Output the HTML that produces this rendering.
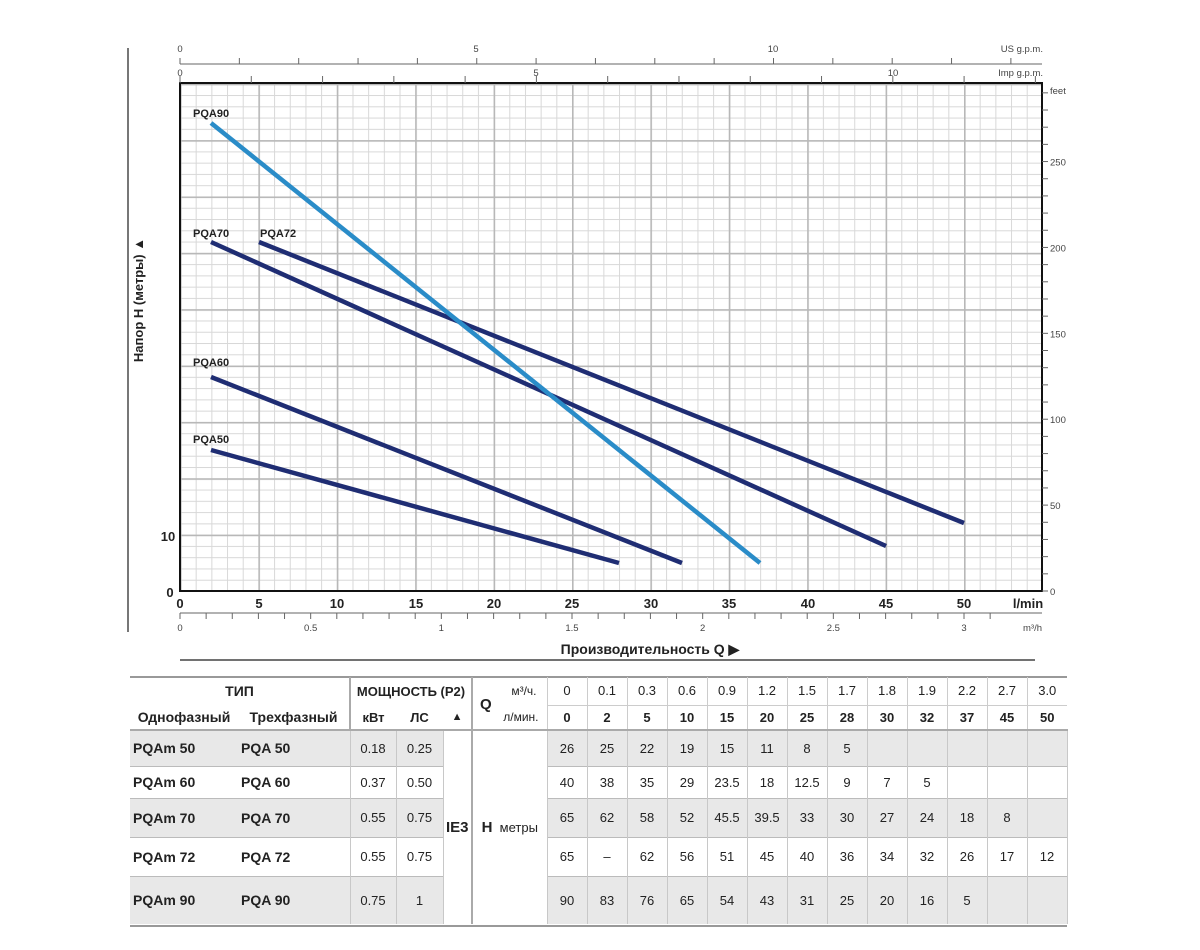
<!DOCTYPE html>
<html><head><meta charset="utf-8"><style>
body{margin:0;width:1200px;height:950px;background:#fff;position:relative;font-family:"Liberation Sans",sans-serif;overflow:hidden}
svg{position:absolute;left:0;top:0}
table{position:absolute;left:130px;top:677px;width:937px;border-collapse:collapse;table-layout:fixed;font-family:"Liberation Sans",sans-serif;font-size:13px;color:#222}
td{text-align:center;padding:0;border-left:1px solid #c8c8c8;border-right:1px solid #c8c8c8;white-space:nowrap}
.h td{border:none}
.g td.s{background:#e8e8e8}
tr.d td{border-top:1px solid #bbb}
.b{font-weight:bold}
.n{text-align:left;padding-left:3px;font-weight:bold;font-size:14px;border-left:none;border-right:none}
</style></head><body>
<svg width="1200" height="670" viewBox="0 0 1200 670">
<defs>
<pattern id="mv" x="180" y="0" width="15.68" height="10" patternUnits="userSpaceOnUse"><line x1="0.5" y1="0" x2="0.5" y2="10" stroke="#d8d8d8" stroke-width="1"/></pattern>
<pattern id="mh" x="0" y="591" width="10" height="11.272" patternUnits="userSpaceOnUse"><line x1="0" y1="0.5" x2="10" y2="0.5" stroke="#d8d8d8" stroke-width="1"/></pattern>
<pattern id="Mv" x="180" y="0" width="78.4" height="10" patternUnits="userSpaceOnUse"><line x1="0.8" y1="0" x2="0.8" y2="10" stroke="#b8b8b8" stroke-width="1.6"/></pattern>
<pattern id="Mh" x="0" y="591" width="10" height="56.36" patternUnits="userSpaceOnUse"><line x1="0" y1="0.8" x2="10" y2="0.8" stroke="#b8b8b8" stroke-width="1.6"/></pattern>
</defs>
<line x1="128" y1="48" x2="128" y2="632" stroke="#777" stroke-width="2"/>
<rect x="180" y="83" width="862" height="508" fill="url(#mv)"/>
<rect x="180" y="83" width="862" height="508" fill="url(#mh)"/>
<rect x="180" y="83" width="862" height="508" fill="url(#Mv)"/>
<rect x="180" y="83" width="862" height="508" fill="url(#Mh)"/>
<rect x="180" y="83" width="862" height="508" fill="none" stroke="#111" stroke-width="2"/>
<g stroke="#666" stroke-width="1">
<line x1="180" y1="64" x2="1042" y2="64"/>
</g>
<g stroke="#666" stroke-width="1" id="ticks"></g>
<g font-size="9.5" fill="#444" id="labs"></g>
<g stroke-linecap="butt" stroke-width="4.5" fill="none">
<line x1="211" y1="450" x2="619" y2="563" stroke="#1f2d73"/>
<line x1="211" y1="377" x2="682" y2="563" stroke="#1f2d73"/>
<line x1="211" y1="242" x2="886" y2="546" stroke="#1f2d73"/>
<line x1="259" y1="242" x2="964" y2="523" stroke="#1f2d73"/>
<line x1="211" y1="123" x2="760" y2="563" stroke="#2a8cc8"/>
</g>
<g font-size="11" font-weight="bold" fill="#222">
<text x="193" y="117">PQA90</text><text x="193" y="237">PQA70</text><text x="260" y="237">PQA72</text>
<text x="193" y="366">PQA60</text><text x="193" y="443">PQA50</text>
</g>
<g font-size="13" font-weight="bold" fill="#222" text-anchor="middle">
<text x="180" y="608">0</text><text x="259" y="608">5</text><text x="337" y="608">10</text><text x="416" y="608">15</text><text x="494" y="608">20</text><text x="572" y="608">25</text><text x="651" y="608">30</text><text x="729" y="608">35</text><text x="808" y="608">40</text><text x="886" y="608">45</text><text x="964" y="608">50</text>
<text x="1028" y="608">l/min</text>
<text x="168" y="541">10</text><text x="170" y="597">0</text>
</g>
<text x="143" y="300" font-size="13" font-weight="bold" fill="#222" text-anchor="middle" transform="rotate(-90 143 300)">Напор H (метры) ▲</text>
<text x="650" y="654" font-size="14" font-weight="bold" fill="#222" text-anchor="middle">Производительность Q ▶</text>
<line x1="180" y1="660" x2="1035" y2="660" stroke="#444" stroke-width="1.5"/>
</svg>
<script>
(function(){
var ns="http://www.w3.org/2000/svg",t=document.getElementById('ticks'),l=document.getElementById('labs');
function L(a,b,c,d){var e=document.createElementNS(ns,'line');e.setAttribute('x1',a);e.setAttribute('y1',b);e.setAttribute('x2',c);e.setAttribute('y2',d);t.appendChild(e);}
function T(x,y,s,anc){var e=document.createElementNS(ns,'text');e.setAttribute('x',x);e.setAttribute('y',y);if(anc)e.setAttribute('text-anchor',anc);e.textContent=s;l.appendChild(e);}
var p=15.68;
for(var i=0;i<=14;i++){var x=180+i*3.785*p;L(x,64,x,58);} 
T(180,52,'0','middle');T(476,52,'5','middle');T(773,52,'10','middle');T(1043,52,'US g.p.m.','end');
for(var i=0;i<=12;i++){var x=180+i*4.546*p;L(x,83,x,76);}
T(180,76,'0','middle');T(536,76,'5','middle');T(893,76,'10','middle');T(1043,76,'Imp g.p.m.','end');
L(180,613,1042,613);
for(var i=0;i<=31;i++){var x=180+i*1.6667*p;if(x<=1043)L(x,613,x,619);}
var m=['0','0.5','1','1.5','2','2.5','3'];for(var i=0;i<7;i++)T(180+i*8.3333*p,631,m[i],'middle');
T(1042,631,'m³/h','end');
var f=1.7178;
for(var i=0;i<=29;i++){var y=591-i*10*f;L(1042,y,1048,y);}
for(var i=0;i<=5;i++)T(1050,595-i*50*f,String(i*50));
T(1050,94,'feet');
})();
</script>
<div style="position:absolute;left:130px;top:676px;width:937px;height:2px;background:#999"></div>
<div style="position:absolute;left:130px;top:925px;width:937px;height:2px;background:#999"></div>
<div style="position:absolute;left:480px;top:696px;font:bold 15px 'Liberation Sans',sans-serif;color:#222">Q</div>
<table>
<colgroup><col style="width:108px"><col style="width:112px"><col style="width:46px"><col style="width:47px"><col style="width:29px"><col style="width:75px"><col span="13" style="width:40px"></colgroup>
<tr class="h" style="height:28px"><td colspan="2" class="b" style="font-size:14px">ТИП</td><td colspan="3" class="b" style="font-size:13px;border-left:2px solid #aaa">МОЩНОСТЬ (P2)</td><td style="text-align:right;padding-right:10px;border-left:2px solid #aaa;font-size:12px">м³/ч.</td>
<td style="border-left:1px solid #ccc">0</td><td style="border-left:1px solid #ccc">0.1</td><td style="border-left:1px solid #ccc">0.3</td><td style="border-left:1px solid #ccc">0.6</td><td style="border-left:1px solid #ccc">0.9</td><td style="border-left:1px solid #ccc">1.2</td><td style="border-left:1px solid #ccc">1.5</td><td style="border-left:1px solid #ccc">1.7</td><td style="border-left:1px solid #ccc">1.8</td><td style="border-left:1px solid #ccc">1.9</td><td style="border-left:1px solid #ccc">2.2</td><td style="border-left:1px solid #ccc">2.7</td><td style="border-left:1px solid #ccc">3.0</td></tr>
<tr class="h b" style="height:25px"><td style="font-size:14px">Однофазный</td><td style="font-size:14px">Трехфазный</td><td style="border-left:2px solid #aaa">кВт</td><td>ЛС</td><td style="font-size:11px">▲</td><td style="text-align:right;padding-right:8px;font-weight:normal;font-size:12px;border-left:2px solid #aaa">л/мин.</td>
<td style="border-left:1px solid #ccc;border-top:1px solid #ccc">0</td><td style="border-left:1px solid #ccc;border-top:1px solid #ccc">2</td><td style="border-left:1px solid #ccc;border-top:1px solid #ccc">5</td><td style="border-left:1px solid #ccc;border-top:1px solid #ccc">10</td><td style="border-left:1px solid #ccc;border-top:1px solid #ccc">15</td><td style="border-left:1px solid #ccc;border-top:1px solid #ccc">20</td><td style="border-left:1px solid #ccc;border-top:1px solid #ccc">25</td><td style="border-left:1px solid #ccc;border-top:1px solid #ccc">28</td><td style="border-left:1px solid #ccc;border-top:1px solid #ccc">30</td><td style="border-left:1px solid #ccc;border-top:1px solid #ccc">32</td><td style="border-left:1px solid #ccc;border-top:1px solid #ccc">37</td><td style="border-left:1px solid #ccc;border-top:1px solid #ccc">45</td><td style="border-left:1px solid #ccc;border-top:1px solid #ccc">50</td></tr>
<tr class="d g" style="height:36px;border-top:2px solid #aaa"><td class="n s">PQAm 50</td><td class="n s">PQA 50</td><td class="s">0.18</td><td class="s">0.25</td><td rowspan="5" class="b" style="font-size:15px;border-top:none">IE3</td><td rowspan="5" style="border-left:2px solid #aaa;border-top:none"><b style="font-size:15px">H</b>&nbsp; метры</td><td class="s">26</td><td class="s">25</td><td class="s">22</td><td class="s">19</td><td class="s">15</td><td class="s">11</td><td class="s">8</td><td class="s">5</td><td class="s"></td><td class="s"></td><td class="s"></td><td class="s"></td><td class="s"></td></tr>
<tr class="d" style="height:32px"><td class="n">PQAm 60</td><td class="n">PQA 60</td><td>0.37</td><td>0.50</td><td>40</td><td>38</td><td>35</td><td>29</td><td>23.5</td><td>18</td><td>12.5</td><td>9</td><td>7</td><td>5</td><td></td><td></td><td></td></tr>
<tr class="d g" style="height:39px"><td class="n s">PQAm 70</td><td class="n s">PQA 70</td><td class="s">0.55</td><td class="s">0.75</td><td class="s">65</td><td class="s">62</td><td class="s">58</td><td class="s">52</td><td class="s">45.5</td><td class="s">39.5</td><td class="s">33</td><td class="s">30</td><td class="s">27</td><td class="s">24</td><td class="s">18</td><td class="s">8</td><td class="s"></td></tr>
<tr class="d" style="height:39px"><td class="n">PQAm 72</td><td class="n">PQA 72</td><td>0.55</td><td>0.75</td><td>65</td><td>–</td><td>62</td><td>56</td><td>51</td><td>45</td><td>40</td><td>36</td><td>34</td><td>32</td><td>26</td><td>17</td><td>12</td></tr>
<tr class="d g" style="height:48px"><td class="n s">PQAm 90</td><td class="n s">PQA 90</td><td class="s">0.75</td><td class="s">1</td><td class="s">90</td><td class="s">83</td><td class="s">76</td><td class="s">65</td><td class="s">54</td><td class="s">43</td><td class="s">31</td><td class="s">25</td><td class="s">20</td><td class="s">16</td><td class="s">5</td><td class="s"></td><td class="s"></td></tr>
</table>
</body></html>
